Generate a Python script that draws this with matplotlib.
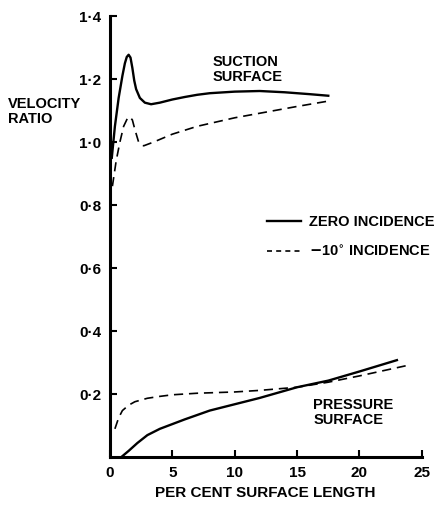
import numpy as np
import matplotlib
matplotlib.use('Agg')
import matplotlib.pyplot as plt
from matplotlib.lines import Line2D

plt.rcParams['font.family'] = ['Liberation Sans Narrow', 'Liberation Sans', 'DejaVu Sans']
plt.rcParams['font.weight'] = 'bold'

# Suction surface, zero incidence
suc_zero_x = [0.15, 0.4, 0.7, 1.0, 1.2, 1.35, 1.5, 1.65, 1.8, 1.95, 2.1, 2.4, 2.8, 3.3, 4.0,
              5.0, 6.0, 7.0, 8.0, 10.0, 12.0, 14.0, 16.0, 17.5]
suc_zero_y = [0.95, 1.05, 1.14, 1.21, 1.25, 1.27, 1.277, 1.268, 1.235, 1.195, 1.168, 1.14,
              1.125, 1.12, 1.125, 1.135, 1.143, 1.15, 1.155, 1.16, 1.162, 1.158, 1.152, 1.147]

# Suction surface, -10 deg incidence
suc_neg_x = [0.2, 0.5, 0.8, 1.1, 1.4, 1.6, 1.8, 2.0, 2.3, 2.7, 3.5, 5.0, 7.0, 10.0, 12.5,
             15.0, 17.5]
suc_neg_y = [0.86, 0.94, 1.0, 1.05, 1.075, 1.08, 1.07, 1.04, 1.0, 0.988, 1.0, 1.025, 1.05,
             1.077, 1.095, 1.113, 1.13]

# Pressure surface, zero incidence
pr_zero_x = [0.9, 1.5, 2.2, 3.0, 4.0, 5.0, 6.0, 8.0, 10.0, 12.0, 15.0, 17.5, 20.0, 23.0]
pr_zero_y = [0.0, 0.02, 0.045, 0.07, 0.09, 0.105, 0.12, 0.148, 0.168, 0.188, 0.222, 0.243,
             0.272, 0.308]

# Pressure surface, -10 deg incidence
pr_neg_x = [0.4, 0.7, 1.0, 1.5, 2.0, 3.0, 4.0, 5.0, 7.0, 10.0, 12.0, 15.0, 17.5, 20.0, 23.7]
pr_neg_y = [0.09, 0.125, 0.148, 0.165, 0.176, 0.187, 0.193, 0.198, 0.203, 0.207, 0.212,
            0.222, 0.238, 0.258, 0.29]

x_ticks = [0, 5, 10, 15, 20, 25]
y_ticks = [0.2, 0.4, 0.6, 0.8, 1.0, 1.2, 1.4]
y_tick_labels = ['0·2', '0·4', '0·6', '0·8', '1·0', '1·2', '1·4']

fig = plt.figure(figsize=(4.45, 5.08), dpi=100)
ax = fig.add_axes([0.247, 0.100, 0.701, 0.8685])

ax.plot(suc_zero_x, suc_zero_y, color='black', lw=1.7, solid_joinstyle='round')
ax.plot(suc_neg_x, suc_neg_y, color='black', lw=1.2, dashes=[5.5, 3.5])
ax.plot(pr_zero_x, pr_zero_y, color='black', lw=1.7, solid_joinstyle='round')
ax.plot(pr_neg_x, pr_neg_y, color='black', lw=1.2, dashes=[5.5, 3.5])

ax.set_xlim(0, 25)
ax.set_ylim(0, 1.4)
ax.spines['top'].set_visible(False)
ax.spines['right'].set_visible(False)
ax.spines['left'].set_linewidth(2.2)
ax.spines['bottom'].set_linewidth(2.2)

ax.set_xticks(x_ticks)
ax.set_xticklabels([str(v) for v in x_ticks])
ax.set_yticks(y_ticks)
ax.set_yticklabels(y_tick_labels)
ax.tick_params(direction='in', length=5, width=1.5, labelsize=11, pad=6)

fig.text(0.018, 0.809, 'VELOCITY\nRATIO', ha='left', va='top', fontsize=10.5,
         linespacing=1.05)
fig.text(0.595, 0.0295, 'PER CENT SURFACE LENGTH', ha='center', va='center', fontsize=11)

ax.text(8.25, 1.276, 'SUCTION\nSURFACE', ha='left', va='top', fontsize=10.5, linespacing=1.1)
ax.text(16.3, 0.187, 'PRESSURE\nSURFACE', ha='left', va='top', fontsize=10.5, linespacing=1.1)

handles = [Line2D([], [], color='black', lw=1.7),
           Line2D([], [], color='black', lw=1.2, dashes=[3, 2.5])]
ax.legend(handles, ['ZERO INCIDENCE', '$-$10$^{\\circ}$ INCIDENCE'], loc='center left',
          bbox_to_anchor=(0.600, 0.5335), bbox_transform=fig.transFigure,
          frameon=False, fontsize=10.5, handlelength=2.3, handletextpad=0.6,
          labelspacing=1.0, borderpad=0, borderaxespad=0)

fig.savefig('out.png', dpi=100)
